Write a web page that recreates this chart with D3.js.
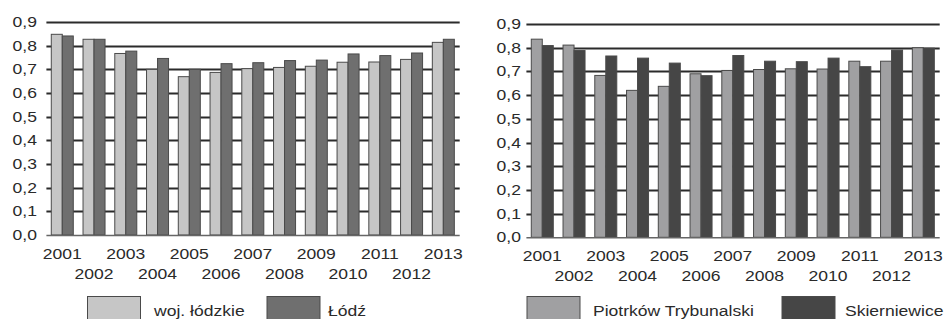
<!DOCTYPE html>
<html>
<head>
<meta charset="utf-8">
<script src="https://cdn.jsdelivr.net/npm/d3@7"></script>
<style>
  body { margin: 0; background: #fff; }
  svg { display: block; font-family: "Liberation Sans", Arial, sans-serif; }
</style>
</head>
<body>
<svg id="chart" width="951" height="319"></svg>
<script>
// years on the x axis
var years = ["2001","2002","2003","2004","2005","2006","2007","2008","2009","2010","2011","2012","2013"];
var yTicks = [0, 0.1, 0.2, 0.3, 0.4, 0.5, 0.6, 0.7, 0.8, 0.9];

// left panel
var wojLodzkie = [0.848, 0.827, 0.767, 0.700, 0.669, 0.687, 0.703, 0.708, 0.713, 0.730, 0.731, 0.742, 0.814];
var lodz       = [0.841, 0.827, 0.777, 0.746, 0.700, 0.724, 0.728, 0.737, 0.739, 0.765, 0.758, 0.769, 0.827];

// right panel
var piotrkow     = [0.836, 0.811, 0.683, 0.620, 0.637, 0.690, 0.704, 0.708, 0.711, 0.710, 0.743, 0.743, 0.800];
var skierniewice = [0.809, 0.788, 0.765, 0.756, 0.735, 0.682, 0.767, 0.743, 0.741, 0.756, 0.720, 0.790, 0.798];

var svg = d3.select("#chart");
var SX = 1.17; // the source font is a bit wider than Liberation Sans
var fmt = d3.formatLocale({decimal: ",", thousands: " ", grouping: [3], currency: ["", ""]}).format(".1f");

function drawPanel(opt) {
  var g = svg.append("g");

  var y = d3.scaleLinear().domain([0, 0.9]).range([opt.y0, opt.y9]);
  var x0 = d3.scaleBand().domain(years).range([opt.left, opt.right]).padding(0);
  var x1 = d3.scaleBand().domain([0, 1]).range([0, x0.bandwidth()])
      .paddingInner(0).paddingOuter(0.443);

  // gridlines (behind bars)
  g.selectAll("line.grid").data(yTicks.filter(function(d) { return d > 0; }))
    .enter().append("line")
      .attr("class", "grid")
      .attr("x1", opt.left).attr("x2", opt.right + 0.5)
      .attr("y1", function(d) { return Math.round(y(d)) + 0.5; })
      .attr("y2", function(d) { return Math.round(y(d)) + 0.5; })
      .attr("stroke", "#2b2b2b").attr("stroke-width", 2.2);

  // y labels
  g.selectAll("text.ylab").data(yTicks).enter().append("text")
    .attr("class", "ylab")
    .attr("transform", function(d) { return "translate(" + opt.labelRight + "," + (y(d) + 5) + ") scale(" + SX + ",1)"; })
    .attr("text-anchor", "end")
    .attr("font-size", 15)
    .attr("fill", "#2a2a2a")
    .text(function(d) { return fmt(d); });

  // bars
  var series = [opt.a, opt.b];
  var colors = [opt.colA, opt.colB];
  series.forEach(function(vals, si) {
    g.selectAll("rect.s" + si).data(vals).enter().append("rect")
      .attr("class", "s" + si)
      .attr("x", function(d, i) { return x0(years[i]) + x1(si); })
      .attr("width", x1.bandwidth())
      .attr("y", function(d) { return y(d); })
      .attr("height", function(d) { return y(0) - y(d); })
      .attr("fill", colors[si])
      .attr("stroke", "#4a4a4a").attr("stroke-width", 1);
  });

  // baseline
  g.append("line")
    .attr("x1", opt.left).attr("x2", opt.right + 0.5)
    .attr("y1", y(0) + 0.5).attr("y2", y(0) + 0.5)
    .attr("stroke", "#666").attr("stroke-width", 1.6);

  // year labels, staggered on two rows
  g.selectAll("text.xlab").data(years).enter().append("text")
    .attr("class", "xlab")
    .attr("transform", function(d, i) {
      var cx = x0(d) + x0.bandwidth() / 2;
      var by = (i % 2 === 0) ? opt.y0 + 24 : opt.y0 + 44;
      return "translate(" + cx + "," + by + ") scale(" + SX + ",1)";
    })
    .attr("text-anchor", "middle")
    .attr("font-size", 15)
    .attr("fill", "#2a2a2a")
    .text(function(d) { return d; });

  // legend
  var leg = g.selectAll("g.leg").data(opt.legend).enter().append("g").attr("class", "leg");
  leg.append("rect")
    .attr("x", function(d) { return d.x; }).attr("y", 296.5)
    .attr("width", 53).attr("height", 30)
    .attr("fill", function(d, i) { return colors[i]; })
    .attr("stroke", "#4a4a4a").attr("stroke-width", 1);
  leg.append("text")
    .attr("transform", function(d) { return "translate(" + d.tx + ",316) scale(" + SX + ",1)"; })
    .attr("font-size", 15)
    .attr("fill", "#2a2a2a")
    .text(function(d) { return d.label; });
}

drawPanel({
  left: 46.4, right: 459.2, y0: 235, y9: 22, labelRight: 37,
  a: wojLodzkie, b: lodz, colA: "#c6c6c6", colB: "#6f6f6f",
  legend: [{label: "woj. łódzkie", x: 87.5, tx: 154}, {label: "Łódź", x: 267, tx: 328}]
});

drawPanel({
  left: 526.4, right: 939.2, y0: 237.3, y9: 24, labelRight: 521,
  a: piotrkow, b: skierniewice, colA: "#a0a0a2", colB: "#464646",
  legend: [{label: "Piotrków Trybunalski", x: 527, tx: 593}, {label: "Skierniewice", x: 782, tx: 845}]
});
</script>
</body>
</html>
